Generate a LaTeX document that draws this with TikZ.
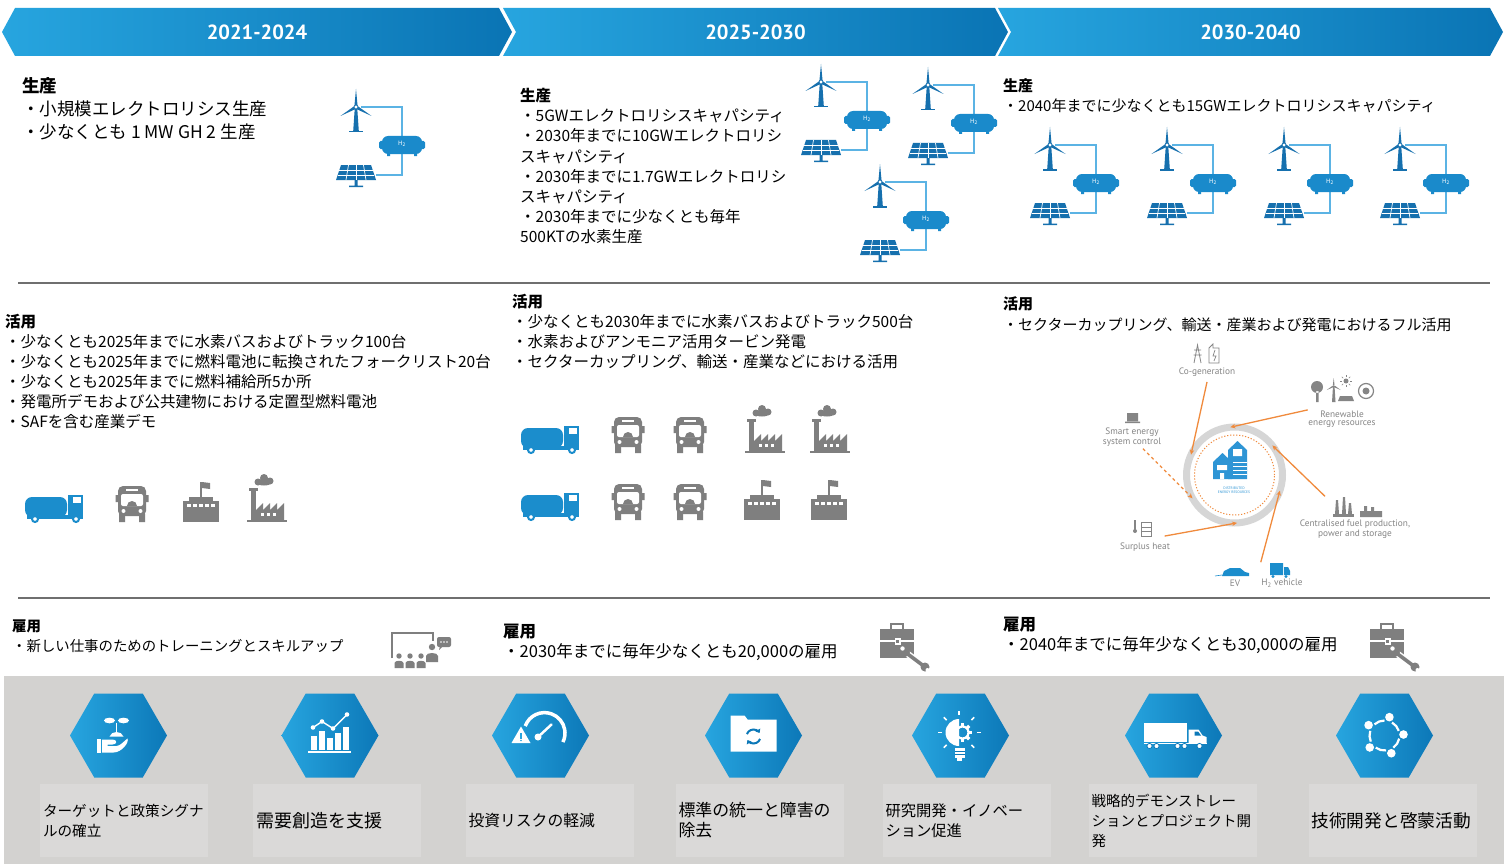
\documentclass[tikz,border=0pt]{standalone}
\usepackage{fontspec}
\setmainfont{Noto Sans CJK JP}
\newfontfamily\bannerfont{PT Sans}
\newfontfamily\cyclefont{PT Sans}
\usetikzlibrary{arrows.meta,shapes.geometric,shapes.symbols}
\definecolor{bandlight}{HTML}{27A5DF}
\definecolor{banddark}{HTML}{0A74B4}
\definecolor{iconblue}{HTML}{1670AE}
\definecolor{tankblue}{HTML}{1A8ACB}
\definecolor{pipeblue}{HTML}{5BB3E4}
\definecolor{truckblue}{HTML}{1B8DCC}
\definecolor{icongray}{HTML}{7F7F7F}
\definecolor{rulegray}{HTML}{6F6F6F}
\definecolor{panelgray}{HTML}{D3D2D0}
\definecolor{boxgray}{HTML}{DAD9D8}
\definecolor{hexlight}{HTML}{27A5DF}
\definecolor{hexdark}{HTML}{0C78B8}
\definecolor{cycleorange}{HTML}{F08A3C}
\definecolor{ringgray}{HTML}{D6D6D6}
\definecolor{labelgray}{HTML}{858585}
\definecolor{houseblue}{HTML}{2E95D5}
\newcommand\capsize[1]{\fontsize{#1}{20}\selectfont}
\newcommand\blocksize[2]{\fontsize{#1}{#2}\selectfont}
\tikzset{
  banner/.style={signal, signal pointer angle=123, minimum height=48pt, inner sep=0pt, left color=bandlight, right color=banddark, text=white, font=\bannerfont\bfseries\fontsize{20.5}{24}\selectfont},
  block/.style={anchor=north west, inner sep=0pt, align=left},
  rule/.style={draw=rulegray, line width=1.3pt},
  hexa/.style={regular polygon, regular polygon sides=6, minimum size=97pt, inner sep=0pt, left color=hexlight, right color=hexdark},
  caption/.style={rectangle, fill=boxgray, minimum width=168pt, minimum height=73pt, text width=162pt, align=left, inner sep=3pt},
  ring/.style={circle, draw=ringgray, line width=7pt, minimum size=96pt, inner sep=0pt, outer sep=0pt},
  cyclelabel/.style={font=\cyclefont\fontsize{9.3}{8.3}\selectfont, text=labelgray, align=center, inner sep=0.5pt},
  feed/.style={-{Stealth[length=5pt,width=4.5pt]}, draw=cycleorange, line width=1.3pt},
  h2unit/.pic={
    \draw[pipeblue, line width=1.6pt] (5,0) -- (46,0) -- (46,30) (46,47) -- (46,68) -- (20,68);
    \fill[iconblue] (-1.3,2) -- (1.3,2) -- (2.8,24) -- (-2.8,24) -- cycle;
    \fill[iconblue] (-7,24) rectangle (7,25.5);
    \foreach \a in {90,210,330} \fill[iconblue, rotate=\a] (0,0) -- (2,1.5) -- (18,0) -- (2,-1.5) -- cycle;
    \filldraw[fill=white, draw=iconblue, line width=0.8pt] (0,0) circle (2);
    \fill[tankblue, rounded corners=6pt] (26,29) rectangle (66,47);
    \fill[tankblue, rounded corners=1.5pt] (23,34) rectangle (69,42);
    \fill[tankblue] (31,46) rectangle (34,49) (58,46) rectangle (61,49);
    \node[text=white, font=\fontsize{6}{6}\selectfont, inner sep=0pt] at (46,37) {H\textsubscript{2}};
    \fill[iconblue] (-15,58) -- (15,58) -- (20,73) -- (-20,73) -- cycle;
    \draw[white, line width=0.7pt] (-16.7,63) -- (16.7,63) (-18.3,68) -- (18.3,68);
    \foreach \k in {-1,0,1} \draw[white, line width=0.7pt] (7.5*\k,58) -- (10*\k,73);
    \fill[iconblue] (-1.5,73) rectangle (1.5,79) (-7,78.5) rectangle (7,80);
  },
  tanker/.pic={
    \fill[truckblue, rounded corners=7pt] (-29,-25) rectangle (13,-5);
    \fill[truckblue] (14,-27) rectangle (29,-5);
    \fill[white] (19,-25) rectangle (27,-19);
    \fill[truckblue] (-27,-7) rectangle (29,-3);
    \foreach \x in {-19,22} \filldraw[fill=white, draw=truckblue, line width=2pt] (\x,-3) circle (3);
  },
  bus/.pic={
    \fill[icongray, rounded corners=5pt] (-14,-36) rectangle (14,-6);
    \fill[icongray] (-13,-8) rectangle (-7,0) (7,-8) rectangle (13,0);
    \fill[icongray] (-16.5,-27) rectangle (-14,-20) (14,-27) rectangle (16.5,-20);
    \fill[white] (-6,-33) rectangle (6,-31);
    \fill[white, rounded corners=2pt] (-11,-28) rectangle (11,-16);
    \fill[icongray] (-5,-16) arc[start angle=180, end angle=360, radius=5] -- cycle;
    \fill[white] (-8.5,-11) circle (2) (8.5,-11) circle (2);
  },
  flagworks/.pic={
    \fill[icongray] (-18,-21) rectangle (18,0);
    \fill[icongray] (-12,-25) rectangle (12,-20);
    \fill[icongray] (-1,-40) rectangle (1,-25);
    \fill[icongray] (1,-40) -- (9,-39) -- (9,-33) -- (1,-34) -- cycle;
    \foreach \x in {-12,-6,0,6,12} \fill[white] (\x-2,-18) rectangle (\x+2,-15);
  },
  smokeworks/.pic={
    \fill[icongray] (-20,-2) rectangle (20,0);
    \fill[icongray] (-16,-33) rectangle (-11,-1);
    \fill[icongray] (-18,-34) rectangle (-9,-31);
    \fill[icongray] (-11,-1) -- (-11,-12) -- (-4,-19) -- (-4,-12) -- (3,-19) -- (3,-12) -- (10,-19) -- (10,-12) -- (17,-19) -- (17,-1) -- cycle;
    \foreach \x in {-5,1,7} \fill[white] (\x-1.5,-9) rectangle (\x+1.5,-6);
    \fill[icongray] (-9,-40) circle (3.5) (-3,-44) circle (4) (3,-41) circle (3.5) (-3,-39) ellipse (7 and 2.5);
  },
  toolcase/.pic={
    \draw[icongray, line width=2.4pt] (-7,-14) -- (-7,-19) -- (5,-19) -- (5,-14);
    \fill[icongray] (-18,-14) rectangle (16,15);
    \draw[white, line width=1.2pt] (-18,-2) -- (16,-2);
    \fill[white] (-3.5,-5) rectangle (2.5,1.5);
    \fill[icongray] (-2,-3.5) rectangle (1,0);
    \draw[white, line width=6.5pt, line cap=round] (7,9) -- (27,24);
    \draw[icongray, line width=3.6pt, line cap=round] (7,9) -- (27,24);
    \fill[icongray] (7,9) circle (5) (27,24) circle (4.5);
    \fill[white] (4.5,5.5) circle (2.2) (29.5,27) circle (2);
  },
  sprout/.pic={
    \fill[white] (-9,-15) ellipse (5.5 and 2.8);
    \fill[white] (5,-15) ellipse (5.5 and 2.8);
    \draw[white, line width=1.5pt] (-2,-13) -- (-2,-2);
    \fill[white] (-9,1) .. controls (-7,-5) and (3,-5) .. (5,1) -- cycle;
    \fill[white] (-22,3) rectangle (-18,17);
    \fill[white] (-16.5,4) -- (-6,4) .. controls (-1,4) and (-1,9) .. (-6,9) -- (-11,9) -- (-11,10.5) -- (-2,10.5) .. controls (2,10.5) and (6,5) .. (9,3) .. controls (11,7) and (3,17) .. (-5,17) -- (-16.5,17) -- cycle;
  },
  trendbars/.pic={
    \fill[white] (-22,15) rectangle (21,17);
    \foreach \x/\t in {-19/0,-11/-5,-3/2,5/-3,13/-9} \fill[white] (\x,\t) rectangle (\x+5.5,14);
    \draw[white, line width=1.4pt] (-17,-8) -- (-8,-14) -- (3,-7) -- (17,-21);
    \foreach \p in {(-17,-8),(-8,-14),(3,-7),(17,-21)} \fill[white] \p circle (2.3);
  },
  riskgauge/.pic={
    \draw[white, line width=3.5pt] (4,-2.4) ++(200:20.5) arc[start angle=200, end angle=386, radius=20.5];
    \fill[white] (-19.5,-9) -- (-10,7.5) -- (-29,7.5) -- cycle;
    \fill[hexlight] (-20.3,-3) rectangle (-18.7,3);
    \fill[hexlight] (-19.5,5) circle (0.9);
    \draw[white, line width=2.5pt, line cap=round] (-2.5,1.5) -- (11,-11);
    \fill[white] (-2.5,1.5) circle (3.5);
  },
  syncfolder/.pic={
    \fill[white] (-23,-20) -- (-9,-20) -- (-6,-16) -- (23,-16) -- (23,16) -- (-23,16) -- cycle;
    \draw[hexdark, line width=2pt, -{Triangle[length=3.5pt,width=5.5pt]}] (0,1) ++(200:7) arc[start angle=200, end angle=330, radius=7];
    \draw[hexdark, line width=2pt, -{Triangle[length=3.5pt,width=5.5pt]}] (0,1) ++(20:7) arc[start angle=20, end angle=150, radius=7];
  },
  ideabulb/.pic={
    \draw[white, line width=2.2pt] (2,-3) circle (6);
    \foreach \a in {0,45,...,315} \fill[white, shift={(2,-3)}, rotate=\a] (5.5,-1.6) rectangle (9.5,1.6);
    \fill[white] (-1.5,10.5) arc[start angle=90, end angle=270, radius=13.5] -- cycle;
    \fill[white] (-6,12) rectangle (4,22);
    \draw[hexdark, line width=0.8pt] (-6,15.5) -- (4,15.5) (-6,18.5) -- (4,18.5);
    \fill[white] (-3.5,22) rectangle (1.5,25);
    \foreach \a in {0,45,90,135,180,225,315} \draw[white, line width=1.6pt, shift={(-1.5,-3)}, rotate=\a] (17.5,0) -- (21.5,0);
  },
  lorry/.pic={
    \fill[white] (-30,-13) rectangle (13,6);
    \fill[white] (15,-6) -- (25,-6) -- (29,0) -- (33,1.5) -- (33,8) -- (15,8) -- cycle;
    \fill[hexdark] (21,-4) -- (24.5,-4) -- (27.5,0) -- (21,0) -- cycle;
    \fill[white] (-30,7) rectangle (33,8.5);
    \foreach \x in {-24,-17,4,11,26} \filldraw[fill=white, draw=hexdark, line width=0.8pt] (\x,10.5) circle (2.6);
  },
  teamring/.pic={
    \foreach \a in {-75,-3,69,141,213} {
      \fill[white] (\a:19) circle (4.3);
      \draw[white, line width=2.2pt] (\a+15:15) arc[start angle=\a+15, end angle=\a+57, radius=15];
    }
  }
}
\begin{document}
\begin{tikzpicture}[x=1pt, y=-1pt]
\useasboundingbox (0,0) rectangle (1504,864);
\fill[white] (0,0) rectangle (1504,864);

\node[banner, signal to=east and west, minimum width=510pt] (b1) at (257,32) {2021-2024};
\node[banner, signal from=west, signal to=east, minimum width=505pt] (b2) at (755.5,32) {2025-2030};
\node[banner, signal from=west, signal to=east, minimum width=505pt] (b3) at (1250.5,32) {2030-2040};

\node[block, font=\blocksize{17.5}{23}] (prodA) at (22,77) {\textbf{生産}\\・小規模エレクトロリシス生産\\・少なくとも 1 MW GH 2 生産};
\node[block, font=\blocksize{15.5}{20.2}] (prodB) at (520,88) {\textbf{生産}\\・5GWエレクトロリシスキャパシティ\\・2030年までに10GWエレクトロリシ\\スキャパシティ\\・2030年までに1.7GWエレクトロリシ\\スキャパシティ\\・2030年までに少なくとも毎年\\500KTの水素生産};
\node[block, font=\blocksize{15}{20}] (prodC) at (1003,78) {\textbf{生産}\\・2040年までに少なくとも15GWエレクトロリシスキャパシティ};

\pic at (356,107) {h2unit};
\pic at (821,82) {h2unit};
\pic at (928,85) {h2unit};
\pic at (880,182) {h2unit};
\foreach \x in {1050,1167,1284,1400} \pic at (\x,145) {h2unit};

\draw[rule] (18,283) -- (1490,283);

\node[block, font=\blocksize{15.5}{20}] (useA) at (5,314) {\textbf{活用}\\・少なくとも2025年までに水素バスおよびトラック100台\\・少なくとも2025年までに燃料電池に転換されたフォークリスト20台\\・少なくとも2025年までに燃料補給所5か所\\・発電所デモおよび公共建物における定置型燃料電池\\・SAFを含む産業デモ};
\node[block, font=\blocksize{15.5}{20}] (useB) at (512,294) {\textbf{活用}\\・少なくとも2030年までに水素バスおよびトラック500台\\・水素およびアンモニア活用タービン発電\\・セクターカップリング、輸送・産業などにおける活用};
\node[block, font=\blocksize{15}{21}] (useC) at (1003,296) {\textbf{活用}\\・セクターカップリング、輸送・産業および発電におけるフル活用};

\pic at (54,522) {tanker};
\pic at (132,522) {bus};
\pic at (201,522) {flagworks};
\pic at (267,522) {smokeworks};
\pic at (550,453) {tanker};
\pic at (628,453) {bus};
\pic at (690,453) {bus};
\pic at (765,453) {smokeworks};
\pic at (830,453) {smokeworks};
\pic at (550,520) {tanker};
\pic at (628,520) {bus};
\pic at (690,520) {bus};
\pic at (762,520) {flagworks};
\pic at (829,520) {flagworks};

% energy cycle
\node[ring] (der) at (1234.5,475) {};
\node[circle, draw=cycleorange, dash pattern=on 1.2pt off 1.8pt, line width=1pt, minimum size=80pt, inner sep=0pt] (derin) at (der) {};
\fill[houseblue] (1213,462) -- (1222.5,453) -- (1232,462) -- (1232,479) -- (1213,479) -- cycle;
\fill[houseblue] (1228,450) -- (1237.5,441) -- (1247,450) -- (1247,479) -- (1228,479) -- cycle;
\fill[white] (1217,465) rectangle (1227,470) (1220,473) rectangle (1224,479) (1233,449) rectangle (1242,456);
\foreach \y in {462,466,470,474} \draw[white, line width=0.8pt] (1233,\y) -- (1247,\y);
\node[text=houseblue, font=\cyclefont\fontsize{3.6}{4.2}\selectfont, align=center, inner sep=0pt] (dertext) at (1234,490) {DISTRIBUTED\\ENERGY RESOURCES};

\node[cyclelabel] (cogen) at (1207,372) {Co-generation};
\node[cyclelabel] (renew) at (1342,419) {Renewable\\energy resources};
\node[cyclelabel] (smart) at (1132,437) {Smart energy\\system control};
\node[cyclelabel] (central) at (1355,529) {Centralised fuel production,\\power and storage};
\node[cyclelabel] (surplus) at (1145,547) {Surplus heat};
\node[cyclelabel] (ev) at (1235,583) {EV};
\node[cyclelabel] (hveh) at (1282,583) {H\textsubscript{2} vehicle};

\draw[feed] ([yshift=-5pt]cogen.south) -- (der.155);
\draw[feed] (renew.north west) -- (der.95);
\draw[feed] ([xshift=-30pt,yshift=23pt]central.north) -- (der.38);
\draw[feed] ([yshift=16pt]hveh.north west) -- (der.-19);
\draw[feed] ([xshift=-6pt,yshift=6pt]surplus.north east) -- (der.-87);
\draw[feed, dashed] ([xshift=11pt,yshift=-2pt]smart.south) -- (der.-151);

\draw[labelgray, line width=0.8pt] (1194,363) -- (1197.5,345) -- (1201,363) (1194,350) -- (1201,350) (1193.5,355) -- (1201.5,355);
\draw[labelgray, line width=0.8pt] (1209,363) -- (1209,348) -- (1213,344) -- (1213,348) -- (1219,348) -- (1219,363) -- cycle;
\draw[labelgray, line width=0.7pt] (1215,350) -- (1213,356) -- (1216,356) -- (1214,361);
\fill[labelgray] (1317,387) circle (6) (1316,391) rectangle (1318.5,402);
\fill[labelgray] (1333,386) -- (1334.5,386) -- (1335.5,402) -- (1332,402) -- cycle;
\foreach \a in {90,210,330} \fill[labelgray, shift={(1333.7,386)}, rotate=\a] (0,0) -- (1,0.8) -- (8,0) -- (1,-0.8) -- cycle;
\fill[labelgray] (1346,381) circle (2.5);
\foreach \a in {0,45,...,315} \draw[labelgray, line width=0.6pt, shift={(1346,381)}, rotate=\a] (4,0) -- (6,0);
\fill[labelgray] (1340,396) -- (1352,396) -- (1354,401) -- (1338,401) -- cycle;
\draw[labelgray, line width=1.2pt] (1366,391) circle (7.5);
\fill[labelgray] (1366,391) circle (3.5);
\fill[labelgray] (1127,413) rectangle (1138,421) (1125,421.5) rectangle (1140,423);
\fill[labelgray] (1333,514) rectangle (1354,517);
\foreach \x/\t in {1337/500,1344/497,1350/503} \fill[labelgray] (\x-2,514) -- (\x-1,\t) -- (\x+1,\t) -- (\x+2,514) -- cycle;
\fill[labelgray] (1360,511) rectangle (1382,517) (1364,506) rectangle (1367,511) (1371,507) rectangle (1374,511);
\draw[labelgray, line width=1.3pt] (1135,520) -- (1135,530);
\fill[labelgray] (1135,531) circle (2);
\draw[labelgray, line width=0.8pt] (1141,522) rectangle (1151,536) (1141,527) -- (1151,527) (1141,531) -- (1151,531);
\fill[truckblue] (1222,576) -- (1224,571) -- (1230,568) -- (1240,568) -- (1245,572) -- (1249,573) -- (1249,576) -- cycle;
\draw[truckblue, line width=0.6pt] (1215,576) -- (1222,575);
\fill[truckblue] (1270,563) rectangle (1283,575) (1284,567) -- (1288,567) -- (1290,571) -- (1290,575) -- (1284,575) -- cycle;
\fill[truckblue] (1273,576.5) circle (1.6) (1286,576.5) circle (1.6);

\draw[rule] (18,598) -- (1490,598);

\node[block, font=\blocksize{14.4}{20}] (jobA) at (12,620) {\textbf{雇用}\\・新しい仕事のためのトレーニングとスキルアップ};
\node[block, font=\blocksize{16.5}{20}] (jobB) at (503,624) {\textbf{雇用}\\・2030年までに毎年少なくとも20,000の雇用};
\node[block, font=\blocksize{16.5}{20}] (jobC) at (1003,617) {\textbf{雇用}\\・2040年までに毎年少なくとも30,000の雇用};

\draw[icongray, line width=1.6pt] (392,658) -- (392,633) -- (433,633) -- (433,641);
\foreach \x in {399,410,421} {
  \fill[icongray] (\x,656) circle (2.7);
  \fill[icongray] (\x-4.5,668) -- (\x-4.5,663) .. controls (\x-4.5,660) and (\x+4.5,660) .. (\x+4.5,663) -- (\x+4.5,668) -- cycle;
}
\fill[icongray] (432,647) circle (3.2);
\fill[icongray] (426,662) -- (426,656) .. controls (426,652) and (438,652) .. (438,656) -- (438,662) -- cycle;
\fill[icongray, rounded corners=2pt] (437,637) rectangle (451,647);
\fill[icongray] (440,646) -- (439,650) -- (443,646) -- cycle;
\foreach \x in {441,444,447} \fill[white] (\x,642) circle (0.9);
\pic at (898,643) {toolcase};
\pic at (1388,643) {toolcase};

% enablers
\fill[panelgray] (4,676) rectangle (1504,864);
\node[hexa] (hx1) at (118.5,735.5) {};
\node[hexa] (hx2) at (330,735.5) {};
\node[hexa] (hx3) at (540.5,735.5) {};
\node[hexa] (hx4) at (753.5,735.5) {};
\node[hexa] (hx5) at (960.5,735.5) {};
\node[hexa] (hx6) at (1173.5,735.5) {};
\node[hexa] (hx7) at (1384.5,735.5) {};
\pic at (hx1) {sprout};
\pic at (hx2) {trendbars};
\pic at (hx3) {riskgauge};
\pic at (hx4) {syncfolder};
\pic at (hx5) {ideabulb};
\pic at (hx6) {lorry};
\pic at (hx7) {teamring};

\node[caption, font=\capsize{14.6}] (cap1) at (124,820.5) {ターゲットと政策シグナ\\ルの確立};
\node[caption, font=\capsize{18}] (cap2) at (337,820.5) {需要創造を支援};
\node[caption, font=\capsize{15.8}] (cap3) at (549.5,820.5) {投資リスクの軽減};
\node[caption, font=\capsize{16.9}] (cap4) at (759.5,820.5) {標準の統一と障害の\\除去};
\node[caption, font=\capsize{15.3}] (cap5) at (966.5,820.5) {研究開発・イノベー\\ション促進};
\node[caption, font=\capsize{14.5}] (cap6) at (1172.5,820.5) {戦略的デモンストレー\\ションとプロジェクト開\\発};
\node[caption, font=\capsize{17.7}] (cap7) at (1392.5,820.5) {技術開発と啓蒙活動};

\end{tikzpicture}
\end{document}
